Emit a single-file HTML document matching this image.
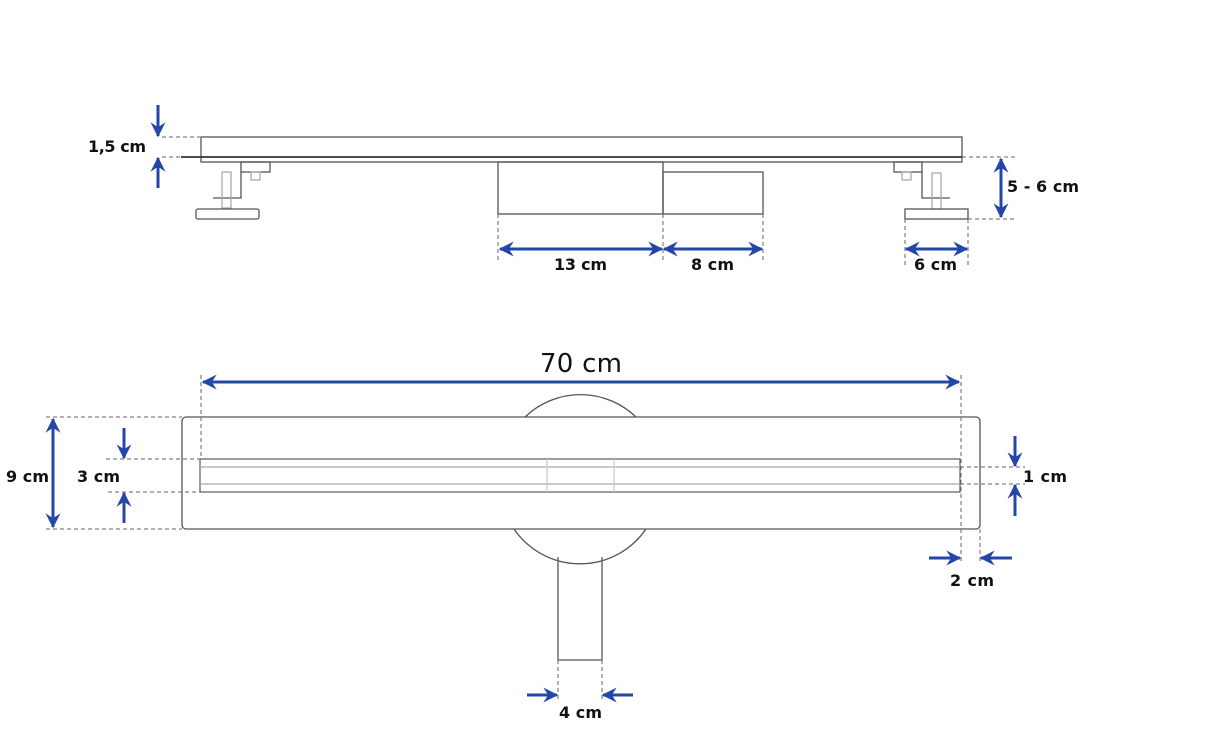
<!DOCTYPE html>
<html><head><meta charset="utf-8"><style>
html,body{margin:0;padding:0;background:#fff}
svg{display:block}
text{font-family:"DejaVu Sans","Liberation Sans",sans-serif;font-weight:bold;fill:#111}
</style></head><body>
<svg width="1228" height="747" viewBox="0 0 1228 747" xmlns="http://www.w3.org/2000/svg">
<defs>
<marker id="a" viewBox="0 0 12 12" refX="11" refY="6" markerWidth="5" markerHeight="5" orient="auto-start-reverse" markerUnits="strokeWidth">
<path d="M0,0 L12,6 L0,12 L4,6 Z" fill="#2346a8"/>
</marker>
</defs>
<g fill="none" stroke="#555" stroke-width="1.3">
<rect x="201" y="137" width="761" height="25"/>
<line x1="181" y1="157" x2="962" y2="157" stroke="#333" stroke-width="1.8"/>
<rect x="241" y="162" width="29" height="10"/>
<rect x="251" y="172" width="9" height="8" stroke="#aaa"/>
<polyline points="241,172 241,198 213,198"/>
<rect x="222" y="172" width="9" height="36" stroke="#aaa"/>
<rect x="196" y="209" width="63" height="10" rx="2"/>
<rect x="894" y="162" width="28" height="10"/>
<rect x="902" y="172" width="9" height="8" stroke="#aaa"/>
<polyline points="922,172 922,198 950,198"/>
<rect x="932" y="173" width="9" height="36" stroke="#aaa"/>
<rect x="905" y="209" width="63" height="10"/>
<rect x="498" y="162" width="165" height="52"/>
<rect x="663" y="172" width="100" height="42"/>
<path d="M525,417 A80,80 0 0 1 636,417"/>
<path d="M514,529 A80,80 0 0 0 646,529"/>
<rect x="182" y="417" width="798" height="112" rx="4"/>
<rect x="200" y="459" width="760" height="33" stroke="#666"/>
<line x1="200" y1="467" x2="960" y2="467" stroke="#aaa"/>
<line x1="200" y1="484" x2="960" y2="484" stroke="#aaa"/>
<line x1="547" y1="459" x2="547" y2="492" stroke="#ccc"/>
<line x1="614" y1="459" x2="614" y2="492" stroke="#ccc"/>
<line x1="558" y1="557" x2="558" y2="660"/>
<line x1="602" y1="557" x2="602" y2="660"/>
<line x1="558" y1="660" x2="602" y2="660"/>
</g>
<g fill="none" stroke="#666" stroke-width="1" stroke-dasharray="4,3">
<line x1="162" y1="137" x2="200" y2="137"/>
<line x1="162" y1="157" x2="180" y2="157"/>
<line x1="962" y1="157" x2="1015" y2="157"/>
<line x1="968" y1="219" x2="1015" y2="219"/>
<line x1="905" y1="219" x2="905" y2="265"/>
<line x1="968" y1="219" x2="968" y2="265"/>
<line x1="498" y1="214" x2="498" y2="262"/>
<line x1="663" y1="214" x2="663" y2="262"/>
<line x1="763" y1="214" x2="763" y2="262"/>
<line x1="201" y1="375" x2="201" y2="459"/>
<line x1="961" y1="375" x2="961" y2="562"/>
<line x1="980" y1="529" x2="980" y2="562"/>
<line x1="46" y1="417" x2="182" y2="417"/>
<line x1="46" y1="529" x2="182" y2="529"/>
<line x1="106" y1="459" x2="200" y2="459"/>
<line x1="108" y1="492" x2="200" y2="492"/>
<line x1="960" y1="467" x2="1025" y2="467"/>
<line x1="960" y1="484" x2="1025" y2="484"/>
<line x1="558" y1="660" x2="558" y2="702"/>
<line x1="602" y1="660" x2="602" y2="702"/>
</g>
<g stroke="#2346a8" stroke-width="3" fill="none">
<line x1="158" y1="105" x2="158" y2="136" marker-end="url(#a)"/>
<line x1="158" y1="188" x2="158" y2="158" marker-end="url(#a)"/>
<line x1="1001" y1="159" x2="1001" y2="217" marker-start="url(#a)" marker-end="url(#a)"/>
<line x1="906" y1="249" x2="967" y2="249" marker-start="url(#a)" marker-end="url(#a)"/>
<line x1="500" y1="249" x2="662" y2="249" marker-start="url(#a)" marker-end="url(#a)"/>
<line x1="664" y1="249" x2="762" y2="249" marker-start="url(#a)" marker-end="url(#a)"/>
<line x1="203" y1="382" x2="959" y2="382" marker-start="url(#a)" marker-end="url(#a)"/>
<line x1="53" y1="419" x2="53" y2="527" marker-start="url(#a)" marker-end="url(#a)"/>
<line x1="124" y1="428" x2="124" y2="458" marker-end="url(#a)"/>
<line x1="124" y1="523" x2="124" y2="493" marker-end="url(#a)"/>
<line x1="1015" y1="436" x2="1015" y2="466" marker-end="url(#a)"/>
<line x1="1015" y1="516" x2="1015" y2="485" marker-end="url(#a)"/>
<line x1="929" y1="558" x2="960" y2="558" marker-end="url(#a)"/>
<line x1="1012" y1="558" x2="981" y2="558" marker-end="url(#a)"/>
<line x1="527" y1="695" x2="557" y2="695" marker-end="url(#a)"/>
<line x1="633" y1="695" x2="603" y2="695" marker-end="url(#a)"/>
</g>
<text x="88" y="152" font-size="16" textLength="58">1,5 cm</text>
<text x="1007" y="192" font-size="16" textLength="72">5 - 6 cm</text>
<text x="914" y="270" font-size="16" textLength="43">6 cm</text>
<text x="554" y="270" font-size="16" textLength="53">13 cm</text>
<text x="691" y="270" font-size="16" textLength="43">8 cm</text>
<text x="540" y="372" font-size="26" textLength="82" style="font-weight:normal">70 cm</text>
<text x="6" y="482" font-size="16" textLength="43">9 cm</text>
<text x="77" y="482" font-size="16" textLength="43">3 cm</text>
<text x="1023" y="482" font-size="16" textLength="44">1 cm</text>
<text x="950" y="586" font-size="16" textLength="44">2 cm</text>
<text x="559" y="718" font-size="16" textLength="43">4 cm</text>
</svg>
</body></html>
